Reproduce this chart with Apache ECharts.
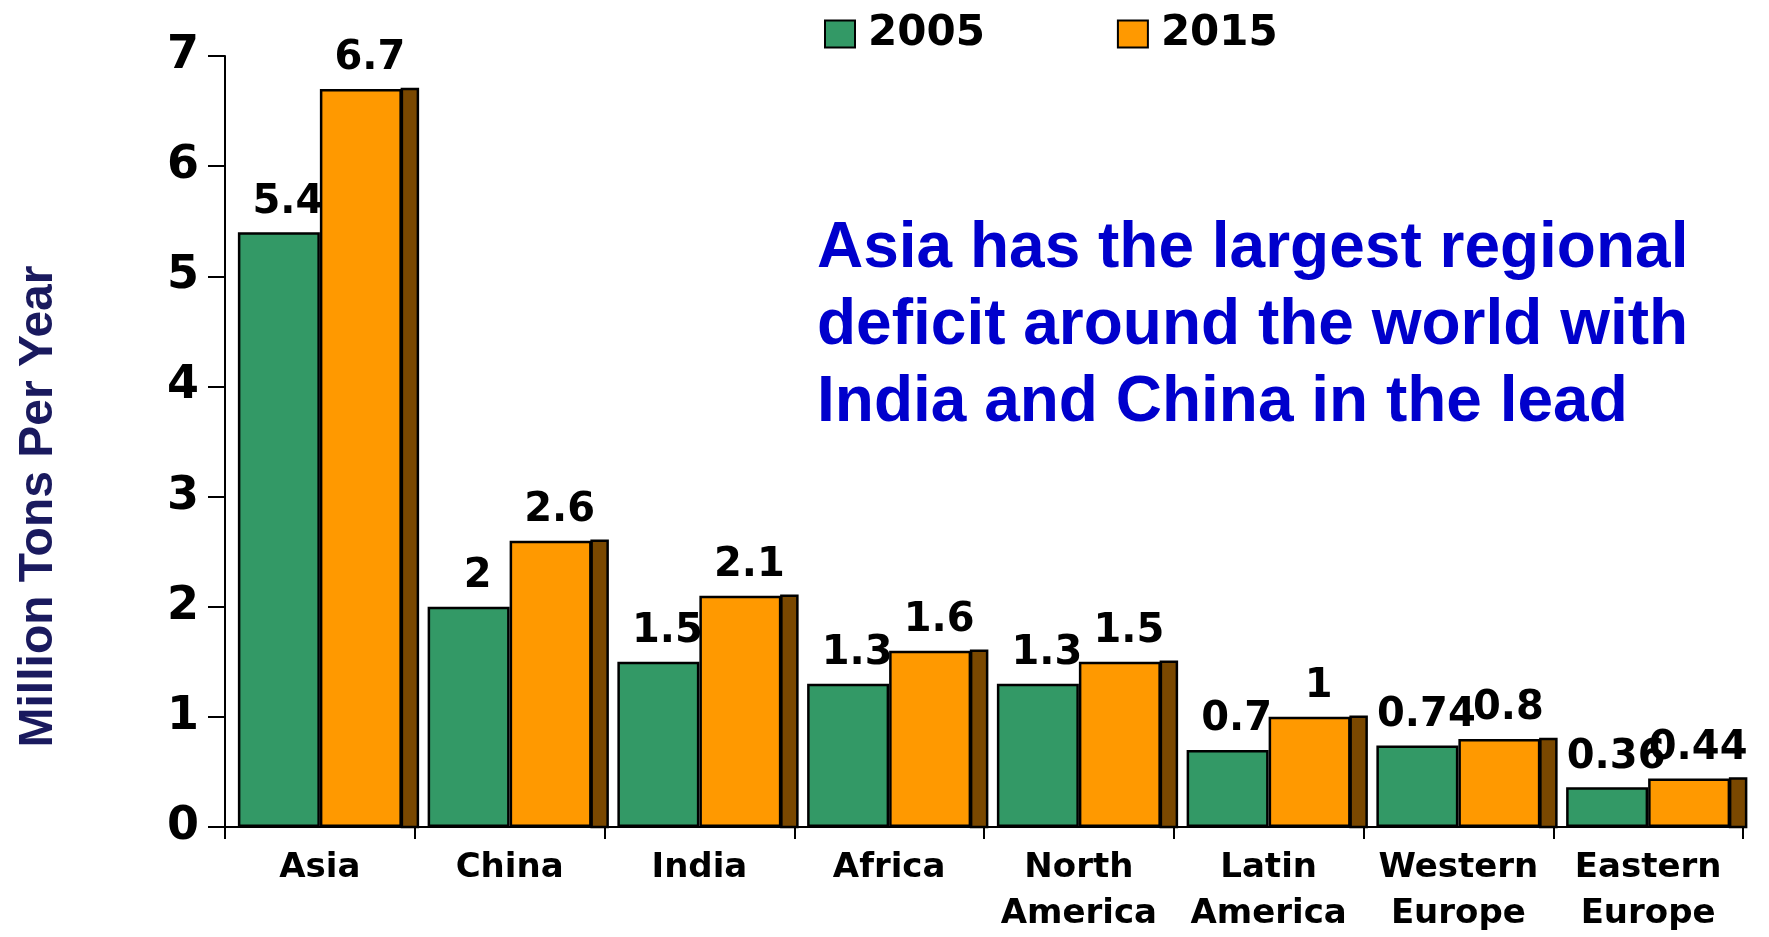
<!DOCTYPE html>
<html>
<head>
<meta charset="utf-8">
<script src="https://cdn.jsdelivr.net/npm/echarts@6/dist/echarts.min.js"></script>
<style>
  html, body { margin: 0; padding: 0; background: #ffffff; width: 100%; height: 100%; overflow: hidden; }
  #chart { width: 100vw; height: 100vh; }
</style>
</head>
<body>
<div id="chart"></div>
<script>
const categories = ['Asia', 'China', 'India', 'Africa', 'North\nAmerica', 'Latin\nAmerica', 'Western\nEurope', 'Eastern\nEurope'];
const values2005 = [5.4, 2, 1.5, 1.3, 1.3, 0.7, 0.74, 0.36];
const values2015 = [6.7, 2.6, 2.1, 1.6, 1.5, 1, 0.8, 0.44];
const seriesNames = ['2005', '2015'];
const yAxisTitle = 'Million Tons Per Year';
const noteText = 'Asia has the largest regional\ndeficit around the world with\nIndia and China in the lead';

const BAR_W = 82;
const DEPTH = 16;
const LABEL_FONT = 'DejaVu Sans';

const chart = echarts.init(document.getElementById('chart'), null, { renderer: 'canvas' });

const labelCfg = {
  show: true,
  position: 'top',
  distance: 10,
  offset: [9, 0],
  color: '#000',
  fontFamily: LABEL_FONT,
  fontWeight: 'bold',
  fontSize: 40,
  lineHeight: 40
};

const option = {
  animation: false,
  backgroundColor: '#ffffff',
  grid: { left: 225, right: 26, top: 56, bottom: 104, containLabel: false },
  legend: {
    data: seriesNames,
    left: 819,
    top: 8,
    icon: 'rect',
    itemWidth: 30,
    itemHeight: 27,
    itemGap: 132,
    itemStyle: { borderColor: '#000', borderWidth: 2 },
    textStyle: {
      color: '#000',
      fontFamily: LABEL_FONT,
      fontWeight: 'bold',
      fontSize: 42,
      lineHeight: 40,
      padding: [0, 0, 0, 8]
    }
  },
  xAxis: {
    type: 'category',
    data: categories,
    axisLine: { show: true, lineStyle: { color: '#000', width: 2 } },
    axisTick: { show: true, interval: 0, length: 12, lineStyle: { color: '#000', width: 2 } },
    axisLabel: {
      interval: 0,
      margin: 18,
      color: '#000',
      fontFamily: LABEL_FONT,
      fontWeight: 'bold',
      fontSize: 34,
      lineHeight: 46
    },
    splitLine: { show: false }
  },
  yAxis: {
    type: 'value',
    min: 0,
    max: 7,
    interval: 1,
    name: yAxisTitle,
    nameLocation: 'middle',
    nameRotate: 90,
    nameGap: 162,
    nameTextStyle: {
      color: '#1a1a5e',
      fontFamily: 'Liberation Sans',
      fontWeight: 'bold',
      fontSize: 48,
      lineHeight: 48,
      padding: [0, 130, 0, 0]
    },
    axisLine: { show: true, lineStyle: { color: '#000', width: 2 } },
    axisTick: { show: true, length: 17, lineStyle: { color: '#000', width: 2 } },
    axisLabel: {
      margin: 26,
      color: '#000',
      fontFamily: LABEL_FONT,
      fontWeight: 'bold',
      fontSize: 46
    },
    splitLine: { show: false }
  },
  graphic: [{
    type: 'text',
    left: 817,
    top: 211,
    style: {
      text: noteText,
      fill: '#0000cc',
      font: 'bold 64px "Liberation Sans", Arial, sans-serif',
      lineHeight: 77
    }
  }],
  series: [
    {
      name: seriesNames[0],
      type: 'bar',
      data: values2005,
      barWidth: BAR_W,
      barGap: '0%',
      z: 2,
      itemStyle: { color: '#339966', borderColor: '#000', borderWidth: 2.5 },
      label: labelCfg
    },
    {
      name: seriesNames[1],
      type: 'bar',
      data: values2015,
      barWidth: BAR_W,
      barGap: '0%',
      z: 3,
      itemStyle: { color: '#ff9900', borderColor: '#000', borderWidth: 2.5 },
      label: labelCfg
    },
    {
      name: 'side',
      type: 'custom',
      z: 3,
      silent: true,
      data: values2015.map((v, i) => [i, v]),
      encode: { x: 0, y: 1 },
      renderItem: function (params, api) {
        const idx = api.value(0);
        const v = api.value(1);
        const base = api.coord([idx, 0]);
        const top = api.coord([idx, v]);
        const x0 = base[0] + BAR_W;
        return {
          type: 'polygon',
          shape: { points: [[x0, top[1]], [x0 + DEPTH, top[1]], [x0 + DEPTH, base[1]], [x0, base[1]]] },
          style: { fill: '#7a4800', stroke: '#000', lineWidth: 2.5 }
        };
      }
    }
  ]
};

chart.setOption(option);
window.addEventListener('resize', () => chart.resize());
</script>
</body>
</html>
